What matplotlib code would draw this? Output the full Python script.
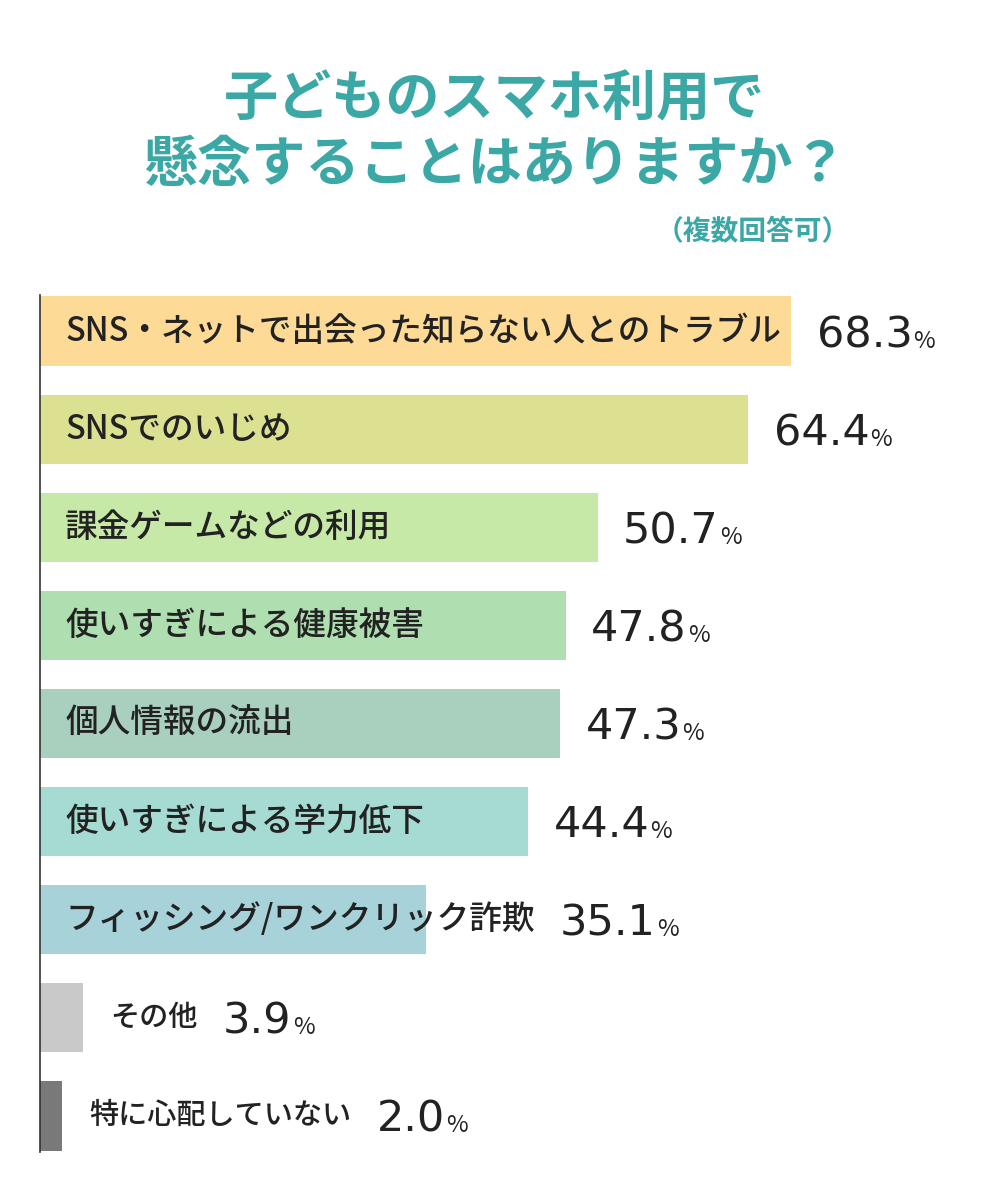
import matplotlib
matplotlib.use("Agg")
import matplotlib.pyplot as plt

categories = ["SNS・ネットで出会った知らない人とのトラブル","SNSでのいじめ","課金ゲームなどの利用",
              "使いすぎによる健康被害","個人情報の流出","使いすぎによる学力低下",
              "フィッシング/ワンクリック詐欺","その他","特に心配していない"]
values = [68.3,64.4,50.7,47.8,47.3,44.4,35.1,3.9,2.0]
colors = ["#FDDA96","#DCE091","#C7E9A7","#AFDEB1","#A9CFBE","#A6DBD3","#A8D2DA","#C9C9C9","#797979"]
inside = [True]*7+[False,False]

W,H=1000,1200
fig=plt.figure(figsize=(10,12),dpi=100)
FONT="Noto Sans CJK JP"
TEAL="#3BA8A6"
fig.text(0.495,1-100/H,"子どものスマホ利用で",ha="center",va="center",fontsize=39,fontweight="bold",color=TEAL,family=FONT)
fig.text(0.495,1-165/H,"懸念することはありますか？",ha="center",va="center",fontsize=39,fontweight="bold",color=TEAL,family=FONT)
fig.text(850/W,1-232/H,"（複数回答可）",ha="right",va="center",fontsize=20,fontweight="bold",color=TEAL,family=FONT)

top,bot=295,1152
ax=fig.add_axes([40/W,1-bot/H,960/W,(bot-top)/H])
ax.set_xlim(0,960/11.0)
n=len(values)
ax.set_ylim(8.37,-0.37)
ax.barh(range(n),values,height=0.71,color=colors,left=0)
for s in ["top","right","bottom"]:
    ax.spines[s].set_visible(False)
ax.spines["left"].set_color("#333333"); ax.spines["left"].set_linewidth(1.2)
ax.set_xticks([]); ax.set_yticks([])
fig.canvas.draw()
r=fig.canvas.get_renderer()
inv=ax.transData.inverted()
for i,(c,v,ins) in enumerate(zip(categories,values,inside)):
    x0=2.3 if ins else v+2.5
    t=ax.text(x0,i,c,va="center",ha="left",fontsize=23.5 if ins else 21,family=FONT,color="#222222",fontweight="medium")
    bb=t.get_window_extent(r)
    tend=inv.transform((bb.x1,0))[0]
    xv=max(tend,v)+2.3
    t2=ax.text(xv,i+0.04,f"{v:.1f}",va="center",ha="left",fontsize=31,family="DejaVu Sans",color="#222222")
    bb2=t2.get_window_extent(r)
    xe=inv.transform((bb2.x1,0))[0]
    ax.text(xe+0.1,i+0.1,"%",va="center",ha="left",fontsize=17,family=FONT,color="#222222")
fig.savefig("out.png",dpi=100,facecolor="white")
